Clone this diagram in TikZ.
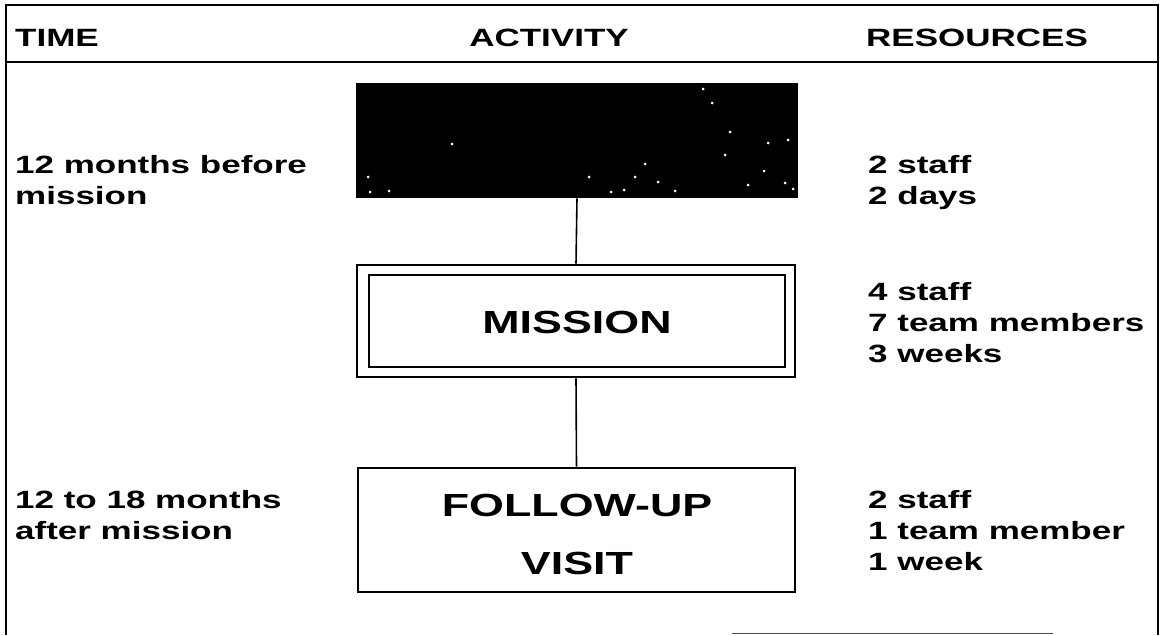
\documentclass[tikz,border=0pt]{standalone}
\usepackage{fontspec}
\setmainfont{Liberation Sans}[FakeStretch=1.4]
\begin{document}
\begin{tikzpicture}[x=1pt,y=-1pt,
  lbl/.style={font=\fontsize{25}{31}\selectfont\bfseries, inner sep=0pt, align=left},
  big/.style={font=\fontsize{32}{58}\selectfont\bfseries, inner sep=0pt, align=center},
  frame/.style={line width=2pt},
  link/.style={line width=1.6pt},
  box/.style={line width=2.6pt}]
\useasboundingbox (0,0) rectangle (1161,635);

% outer frame and header rule
\draw[frame] (6,635) -- (6,5) -- (1158,5) -- (1158,635);
\draw[frame] (6,62) -- (1158,62);
\draw[line width=1pt, black!70] (732,633) -- (1053,633);

% column headings
\node[lbl, anchor=base west] (hTime) at (15,46) {TIME};
\node[lbl, anchor=base] (hAct) at (549,46) {ACTIVITY};
\node[lbl, anchor=base west] (hRes) at (866,46) {RESOURCES};

% activity boxes
\node[fill=black, draw=black, box, minimum width=440pt, minimum height=113pt, inner sep=0pt] (prep) at (577,140.5) {};
\foreach \px/\py in {703/89,712/103,730/132,788/140,768/143,725/155,452/144,645/164,764/171,
  368/177,589/177,635/177,658/182,785/183,748/185,370/192,389/191,611/192,624/190,675/191,793/189}
  \fill[white] (\px,\py) circle (1.5pt);

\node[draw, box, minimum width=438pt, minimum height=112pt, inner sep=0pt] (mission) at (576,321) {};
\node[draw, line width=1.6pt, minimum width=416pt, minimum height=92pt, inner sep=0pt] (missionIn) at (577,321) {};
\node[big] (missionTxt) at (577,322) {MISSION};

\node[draw, box, minimum width=437pt, minimum height=124pt, inner sep=0pt] (follow) at (576.5,530) {};
\node[big] (followTxt) at (577,534) {FOLLOW-UP\\VISIT};

% connectors
\draw[link] (prep.south) -- (mission.north);
\draw[link] (mission.south) -- (follow.north);

% time column (base anchor sits on the last line)
\node[lbl, anchor=base west] (t1) at (15,204) {12 months before\\mission};
\node[lbl, anchor=base west] (t3) at (15,539) {12 to 18 months\\after mission};

% resources column
\node[lbl, anchor=base west] (r1) at (868,204) {2 staff\\2 days};
\node[lbl, anchor=base west] (r2) at (868,362) {4 staff\\7 team members\\3 weeks};
\node[lbl, anchor=base west] (r3) at (868,570) {2 staff\\1 team member\\1 week};
\end{tikzpicture}
\end{document}
